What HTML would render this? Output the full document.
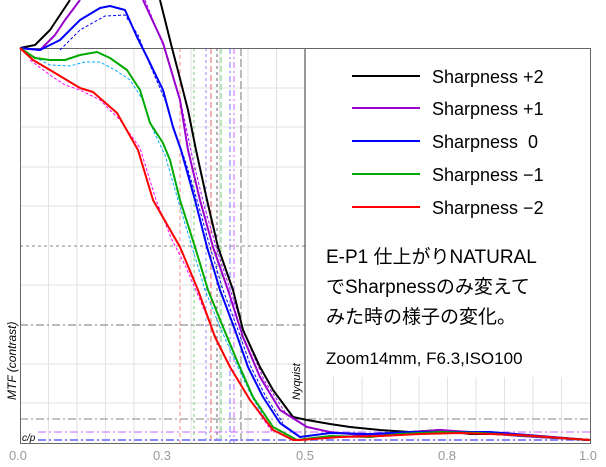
<!DOCTYPE html><html><head><meta charset="utf-8"><style>body{margin:0;background:#fff}svg{display:block}</style></head><body>
<svg width="606" height="467" xmlns="http://www.w3.org/2000/svg" font-family="Liberation Sans, Noto Sans CJK JP, sans-serif">
<g stroke="#e2e2e2" stroke-width="1">
<path d="M20 88H590M20 127H590M20 167H590M20 206H590M20 285H590M20 364H590M20 403H590"/>
<path d="M48.5 48V443M77 48V443M105.5 48V443M134 48V443M162.5 48V443M191 48V443M219.5 48V443M248 48V443M276.5 48V443M333.5 48V443M362 48V443M390.5 48V443M419 48V443M447.5 48V443M476 48V443M504.5 48V443M533 48V443M561.5 48V443"/>
</g>
<g fill="none" stroke-width="1">
<path d="M180 48V443" stroke="#f88" stroke-dasharray="4,3"/>
<path d="M194 48V443" stroke="#7c7" stroke-dasharray="3,3"/>
<path d="M206 48V443" stroke="#88f" stroke-dasharray="3,3"/>
<path d="M211 48V443" stroke="#e66" stroke-dasharray="6,3"/>
<path d="M217 48V443" stroke="#666" stroke-dasharray="3,3"/>
<path d="M221 48V443" stroke="#7c7" stroke-dasharray="6,3"/>
<path d="M230 48V443" stroke="#77f" stroke-dasharray="6,3,2,3"/>
<path d="M234 48V443" stroke="#c6f" stroke-dasharray="6,3,2,3"/>
<path d="M241 48V443" stroke="#777" stroke-dasharray="8,3"/>
<path d="M20 246H590" stroke="#888" stroke-dasharray="3,3"/>
<path d="M20 325H590" stroke="#777" stroke-dasharray="8,3,2,3"/>
<path d="M20 419H590" stroke="#888" stroke-dasharray="8,3,2,3"/>
<path d="M38 432H590" stroke="#c6f" stroke-dasharray="8,3,2,3"/>
<path d="M38 440H590" stroke="#88f" stroke-width="2" stroke-dasharray="8,3,2,3"/>
</g>
<rect x="305" y="48" width="285" height="329" fill="#fff"/>
<path d="M305 48V443" stroke="#333"/>
<rect x="20.5" y="48.5" width="570" height="395" fill="none" stroke="#666"/>
<g fill="none" stroke-width="1" stroke-dasharray="3,2">
<path d="M60 50L80 30L105 16L125 15L138 35L150 65L165 100L176 135L185 160L197 200L210 247L223 290L238 330L251 367L266 397L283 423" stroke="#00f"/>
<path d="M30 55L50 65L70 66L85 62L100 62L115 70L130 80L143 100L153 130L165 155L178 200L192 247L205 290L220 327L236 363L252 397L270 427" stroke="#0af"/>
<path d="M30 60L50 75L65 85L80 90L100 100L120 120L140 148L156 200L172 240L185 265L200 300L217 340L232 370L252 403L273 433" stroke="#f0f"/>
<path d="M145 0L165 50L182 108L193 160L204 205L217 250L232 295L247 340L264 380L285 412" stroke="#a0f"/>
</g>
<g fill="none" stroke-width="2" stroke-linejoin="round">
<path d="M20 48L35 45L50 30L62 12L70 0M160 0L172 48L177 67L188 110L196 150L207 200L218 247L233 290L243 330L260 367L273 390L293 417L307 420L330 424L350 427L380 430L410 432L440 430L470 434L500 434L540 437L590 440" stroke="#000"/>
<path d="M20 48L40 50L55 35L65 20L80 0M143 0L163 43L180 100L188 150L200 200L213 247L228 290L243 337L260 377L280 410L307 427L330 432L360 435L400 433L440 430L470 432L520 436L590 440" stroke="#90c"/>
<path d="M20 48L40 50L60 40L80 20L100 8L110 6L125 10L137 37L147 57L163 90L173 127L181 150L195 200L207 247L220 290L235 330L248 367L263 397L280 423L300 437L330 433L370 434L410 432L450 432L490 432L540 436L590 440" stroke="#00f"/>
<path d="M20 48L35 58L50 60L65 60L80 55L97 52L110 58L127 70L140 90L150 123L163 143L170 160L180 200L195 247L208 290L223 327L238 363L253 397L273 427L297 440L330 436L370 437L400 434L440 432L480 433L530 436L590 440" stroke="#0a0"/>
<path d="M20 48L33 60L50 70L80 88L93 92L117 113L138 150L153 200L180 247L198 290L215 337L230 367L250 400L273 430L293 440L300 440L340 437L380 436L420 434L460 433L520 435L590 440" stroke="#f00"/>
</g>
<g stroke-width="2">
<path d="M352 76H420" stroke="#000"/><path d="M352 108H420" stroke="#90c"/><path d="M352 141H420" stroke="#00f"/><path d="M352 174H420" stroke="#0a0"/><path d="M352 207H420" stroke="#f00"/>
</g>
<g font-size="18" fill="#000">
<text x="432" y="83">Sharpness +2</text>
<text x="432" y="115">Sharpness +1</text>
<text x="432" y="148" xml:space="preserve">Sharpness  0</text>
<text x="432" y="181">Sharpness −1</text>
<text x="432" y="214">Sharpness −2</text>
<text x="326" y="263" font-size="19">E-P1 仕上がりNATURAL</text>
<text x="326" y="293" font-size="19">でSharpnessのみ変えて</text>
<text x="326" y="323" font-size="19">みた時の様子の変化。</text>
<text x="326" y="364" font-size="17">Zoom14mm, F6.3,ISO100</text>
</g>
<text x="16" y="400" font-size="12" font-style="italic" transform="rotate(-90 16 400)">MTF (contrast)</text>
<text x="300" y="400" font-size="11" font-style="italic" transform="rotate(-90 300 400)">Nyquist</text>
<text x="22" y="441" font-size="10" font-style="italic">c/p</text>
<g font-size="13" fill="#999" text-anchor="middle">
<text x="18" y="460">0.0</text><text x="162" y="460">0.3</text><text x="305" y="460">0.5</text><text x="447" y="460">0.8</text><text x="588" y="460">1.0</text>
</g>
</svg></body></html>
